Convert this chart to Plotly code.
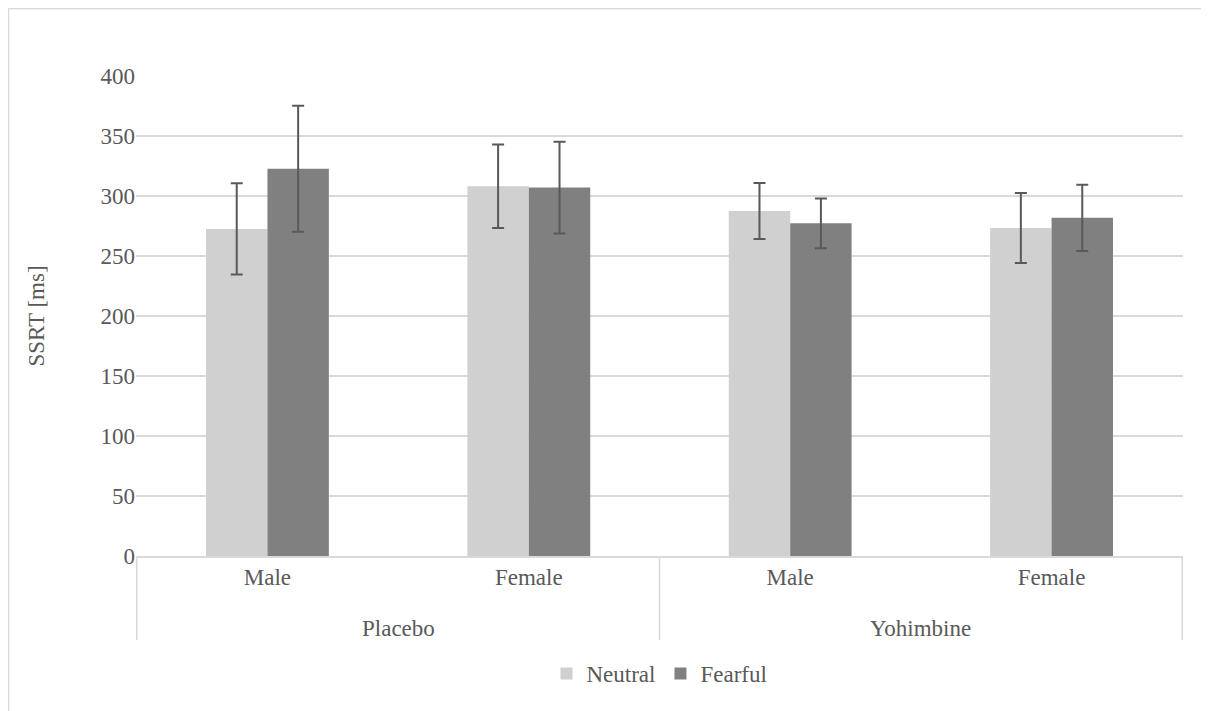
import plotly.graph_objects as go

drug = ["Placebo", "Placebo", "Yohimbine", "Yohimbine"]
sex = ["Male", "Female", "Male", "Female"]
groups = ["Placebo", "Yohimbine"]

neutral = [272.6, 308.2, 287.5, 273.3]
neutral_err = [38.0, 34.8, 23.3, 29.2]
fearful = [322.8, 307.0, 277.2, 281.8]
fearful_err = [52.5, 38.2, 20.8, 27.6]

y_ticks = [0, 50, 100, 150, 200, 250, 300, 350, 400]

cats = [f"{d} {s}" for d, s in zip(drug, sex)]

FONT = "Tinos, 'Times New Roman', 'Liberation Serif', 'DejaVu Serif', serif"
TXT = "#595959"
GRID = "#d9d9d9"

W, H = 1201, 703
L, R, T, B = 128, 26, 68, 155
PW, PH = W - L - R, H - T - B

fig = go.Figure()
fig.add_trace(go.Bar(
    name="Neutral", x=cats, y=neutral,
    marker=dict(color="#d0d0d0", line=dict(width=0)),
    error_y=dict(type="data", array=neutral_err, color="#595959", thickness=2, width=6),
))
fig.add_trace(go.Bar(
    name="Fearful", x=cats, y=fearful,
    marker=dict(color="#808080", line=dict(width=0)),
    error_y=dict(type="data", array=fearful_err, color="#595959", thickness=2, width=6),
))

fig.update_layout(
    width=W, height=H,
    margin=dict(l=L, r=R, t=T, b=B),
    paper_bgcolor="white", plot_bgcolor="white",
    font=dict(family=FONT, size=23, color=TXT),
    barmode="group", bargap=0.53, bargroupgap=0,
    showlegend=True,
    legend=dict(orientation="h", x=0.5, xanchor="center", y=-0.2, yanchor="top",
                font=dict(family=FONT, size=23, color=TXT), itemwidth=30,
                tracegroupgap=0),
)
fig.update_xaxes(
    type="category", showgrid=False,
    showline=True, linecolor=GRID, linewidth=1.5,
    tickvals=cats, ticktext=sex,
    tickfont=dict(family=FONT, size=23, color=TXT),
    ticks="",
)
fig.update_yaxes(
    range=[0, 400], tickvals=y_ticks, showgrid=True, gridcolor=GRID, gridwidth=1.5,
    zeroline=False, showline=False, ticks="",
    tickfont=dict(family=FONT, size=23, color=TXT),
    title=dict(text="SSRT [ms]", font=dict(family=FONT, size=23, color=TXT), standoff=49),
)

# group labels and dividers
n = len(cats)
for g in groups:
    idx = [i for i, d in enumerate(drug) if d == g]
    fig.add_annotation(x=(idx[0] + idx[-1]) / 2, xref="x", y=-0.15, yref="paper",
                       text=g, showarrow=False, yanchor="middle",
                       font=dict(family=FONT, size=23, color=TXT))
bounds = [-0.5] + [i + 0.5 for i in range(n - 1) if drug[i] != drug[i + 1]] + [n - 0.5]
for b in bounds:
    fig.add_shape(type="line", xref="x", yref="paper", x0=b, x1=b, y0=0, y1=-0.175,
                  line=dict(color=GRID, width=1.5))

# chart-area frame
fig.add_shape(type="rect", xref="paper", yref="paper",
              x0=(0.5 - L) / PW, x1=(W + 30 - L) / PW,
              y0=(PH + T - (H + 30)) / PH, y1=(PH + T - 0.5) / PH,
              line=dict(color=GRID, width=1.5), fillcolor="rgba(0,0,0,0)", layer="below")

fig.write_html("out.html")
